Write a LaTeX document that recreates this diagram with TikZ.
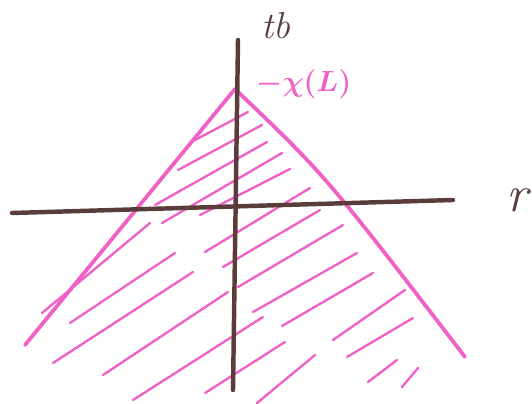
\documentclass[tikz,border=0pt]{standalone}
\usepackage{tikz}
\usetikzlibrary{calc}
\definecolor{hPink}{HTML}{F060C6}
\definecolor{hBrown}{HTML}{5A3C3B}
\tikzset{
  axisline/.style={draw=hBrown, line width=3.8pt, line cap=round},
  coneline/.style={draw=hPink, line width=3.2pt, line cap=round},
  hatchline/.style={draw=hPink, line width=2pt, line cap=round},
  axlabel/.style={text=hBrown, inner sep=0pt, font=\fontsize{32}{32}\selectfont\itshape},
  conelabel/.style={text=hPink, inner sep=0pt, font=\fontsize{27}{27}\selectfont\boldmath},
}

\begin{document}
\begin{tikzpicture}[x=0.03cm, y=-0.03cm]
  \useasboundingbox (0,0) rectangle (532,404);
  % axes
  \coordinate (rleft) at (12,213);
  \coordinate (rright) at (453,200);
  \coordinate (ttop) at (238,40);
  \coordinate (tbot) at (233,390);
  % cone
  \coordinate (apex) at (235,89);
  \coordinate (cleft) at (25,345);
  \coordinate (cright) at (465,357);

  % hatching inside the cone
  \foreach \xa/\ya/\xb/\yb in {195/140/248/112, 178/170/262/125, 155/205/267/142,
      162/223/282/153, 200/215/290/169, 205/252/310/188, 223/267/320/210,
      238/287/343/225, 253/312/357/253, 282/326/373/273, 333/340/405/290,
      347/357/413/318, 368/382/397/360, 402/387/418/368, 42/313/150/223,
      70/323/175/253, 53/363/193/272, 103/375/228/292, 133/400/263/317,
      205/393/285/342, 257/403/315/355}
    \draw[hatchline] (\xa,\ya) -- (\xb,\yb);

  \draw[coneline] (cleft) -- (apex);
  \draw[coneline] (apex) .. controls (326,176) .. (cright);

  \draw[axisline] (rleft) -- (rright);
  \draw[axisline] (ttop) -- (tbot);

  \node[axlabel] (tb) at (276,26) {tb};
  \node[axlabel, font=\fontsize{44}{44}\selectfont\itshape] (rlab) at (517,200) {r};
  \node[conelabel] (chi) at (304,84) {$-\chi(L)$};
\end{tikzpicture}
\end{document}
